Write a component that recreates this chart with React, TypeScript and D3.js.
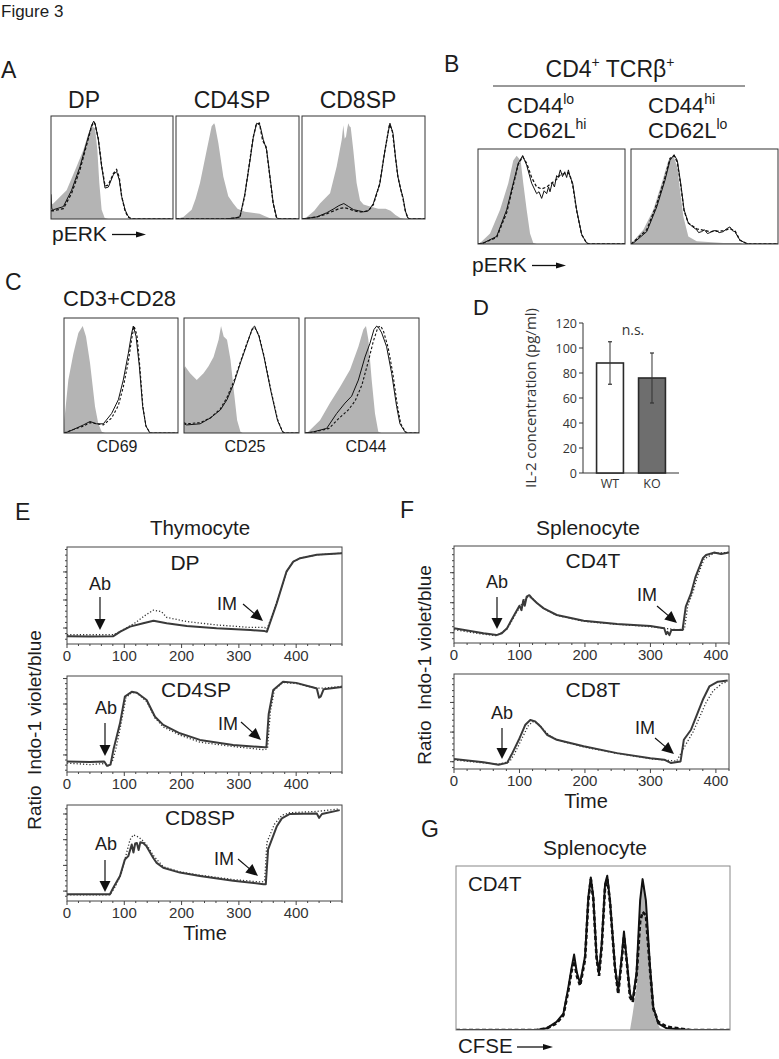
import React from 'react';
import * as d3 from 'd3';

type Pt = [number, number];

// ---------------- Panel A : pERK histograms (channel 0-1000, % of max) ----------------
const A_TITLES = ['DP', 'CD4SP', 'CD8SP'];
const A_DP_FILL: Pt[] = [[0,0],[0,14],[19,15],[128,28],[210,51],[265,67],[306,83],[333,90],[361,88],[380,67],[396,35],[415,9],[440,1],[470,0]];
const A_DP_SOLID: Pt[] = [[0,24],[6,10],[19,9],[101,12],[169,28],[238,51],[292,74],[333,91],[350,95],[361,93],[388,77],[415,51],[443,30],[470,31],[511,43],[538,46],[560,38],[579,22],[607,9],[630,3],[660,0],[1000,0]];
const A_DP_DASH: Pt[] = [[0,8],[19,8],[101,10],[169,25],[238,48],[292,72],[333,90],[350,94],[361,92],[388,78],[415,52],[443,32],[470,33],[511,44],[538,48],[560,40],[579,22],[607,8],[630,2],[660,0],[1000,0]];
const A_CD4_FILL: Pt[] = [[0,0],[60,2],[127,9],[160,20],[195,35],[250,67],[290,90],[310,93],[317,91],[344,74],[385,41],[425,22],[466,15],[500,10],[560,7],[620,6],[680,5],[720,3],[760,1],[800,0]];
const A_CD4_SOLID: Pt[] = [[0,0],[400,0],[480,1],[520,2],[561,25],[602,57],[629,80],[656,93],[683,91],[710,77],[737,67],[764,41],[791,15],[819,1],[840,0],[1000,0]];
const A_CD4_DASH: Pt[] = [[0,0],[400,0],[480,1],[520,2],[558,22],[598,55],[626,78],[652,92],[678,93],[705,76],[733,70],[760,44],[789,16],[815,2],[840,0],[1000,0]];
const A_CD8_FILL: Pt[] = [[0,0],[40,2],[100,8],[146,15],[228,25],[282,51],[323,77],[336,91],[347,78],[358,80],[368,88],[377,93],[386,90],[396,89],[417,67],[444,35],[472,18],[500,14],[560,12],[620,10],[680,10],[720,8],[760,4],[800,1],[840,0]];
const A_CD8_SOLID: Pt[] = [[0,0],[120,2],[200,6],[260,10],[300,13],[340,15],[380,12],[420,9],[460,8],[500,7],[540,8],[580,15],[634,35],[675,67],[702,85],[715,93],[740,83],[760,60],[780,41],[800,30],[821,21],[840,8],[860,1],[880,0],[1000,0]];
const A_CD8_DASH: Pt[] = [[0,0],[120,2],[200,5],[260,8],[300,10],[340,11],[380,10],[420,8],[460,7],[500,7],[540,8],[580,14],[630,33],[672,65],[700,84],[712,92],[735,85],[758,62],[778,42],[800,30],[821,20],[840,8],[860,1],[880,0],[1000,0]];

// ---------------- Panel B ----------------
const B_B1_FILL: Pt[] = [[0,0],[14,1],[82,11],[150,36],[206,64],[240,88],[263,93],[290,88],[308,64],[331,36],[354,11],[376,1],[400,0]];
const B_B1_SOLID: Pt[] = [[0,0],[36,1],[127,8],[195,36],[240,64],[274,85],[304,93],[331,83],[365,64],[399,53],[415,55],[433,48],[450,56],[467,53],[480,60],[490,55],[505,65],[520,60],[535,72],[546,70],[560,78],[575,71],[590,76],[603,70],[615,78],[626,71],[644,64],[671,36],[705,10],[739,1],[760,0],[1000,0]];
const B_B1_DASH: Pt[] = [[0,0],[36,1],[127,7],[195,33],[240,62],[274,84],[304,92],[331,85],[365,70],[399,60],[433,58],[467,60],[500,64],[535,68],[560,73],[590,74],[615,75],[630,70],[644,62],[671,35],[705,10],[739,1],[760,0],[1000,0]];
const B_B2_FILL: Pt[] = [[0,0],[4,1],[84,15],[152,36],[209,64],[254,88],[288,93],[315,81],[333,57],[356,29],[390,8],[447,3],[628,1],[741,1],[760,0]];
const B_B2_SOLID: Pt[] = [[0,0],[16,1],[107,13],[175,39],[231,67],[265,88],[293,94],[315,88],[338,64],[361,36],[390,22],[420,18],[447,15],[460,12],[480,13],[500,15],[520,11],[537,12],[560,14],[580,14],[600,12],[628,13],[650,16],[673,18],[690,14],[707,13],[741,4],[780,1],[800,0],[1000,0]];
const B_B2_DASH: Pt[] = [[0,0],[16,2],[107,15],[175,42],[231,70],[265,90],[293,93],[315,86],[338,62],[361,35],[390,22],[447,16],[537,13],[628,14],[673,16],[707,14],[741,4],[780,1],[800,0],[1000,0]];

// ---------------- Panel C ----------------
const C_LABELS = ['CD69', 'CD25', 'CD44'];
const C_1_FILL: Pt[] = [[0,0],[3,11],[38,46],[82,69],[126,87],[164,93],[193,84],[228,61],[272,23],[301,8],[331,1],[360,0]];
const C_1_SOLID: Pt[] = [[0,0],[9,0],[82,3],[170,7],[228,10],[287,8],[345,8],[418,17],[477,29],[520,46],[564,69],[594,87],[608,93],[632,84],[661,58],[690,23],[719,6],[754,0],[1000,0]];
const C_1_DASH: Pt[] = [[0,0],[82,3],[170,6],[228,9],[287,8],[345,7],[418,13],[477,24],[520,40],[564,62],[594,82],[615,93],[640,85],[665,58],[692,23],[719,6],[754,0],[1000,0]];
const C_2_FILL: Pt[] = [[0,0],[0,55],[9,58],[53,52],[111,46],[170,52],[213,58],[257,66],[301,81],[322,93],[345,84],[374,81],[404,64],[433,37],[462,11],[491,1],[510,0]];
const C_2_SOLID: Pt[] = [[0,8],[23,7],[140,8],[228,13],[316,20],[374,29],[433,43],[491,61],[550,78],[594,91],[614,93],[652,84],[696,66],[754,37],[813,11],[857,1],[880,0],[1000,0]];
const C_2_DASH: Pt[] = [[0,9],[23,8],[140,9],[228,13],[316,21],[374,31],[433,45],[491,62],[550,79],[594,90],[614,92],[652,85],[696,67],[754,38],[813,12],[857,1],[880,0],[1000,0]];
const C_3_FILL: Pt[] = [[0,0],[29,1],[132,11],[219,26],[307,40],[395,55],[468,75],[512,90],[535,93],[556,81],[585,46],[614,17],[643,1],[670,0]];
const C_3_SOLID: Pt[] = [[0,0],[73,1],[190,4],[278,17],[351,26],[409,32],[468,46],[526,66],[570,78],[605,90],[629,93],[650,91],[673,87],[716,75],[760,52],[804,23],[833,8],[877,1],[900,0],[1000,0]];
const C_3_DASH: Pt[] = [[0,0],[90,1],[210,4],[300,13],[380,20],[440,28],[500,42],[560,64],[600,80],[640,92],[665,93],[690,88],[730,74],[770,52],[810,24],[840,8],[880,1],[900,0],[1000,0]];

// ---------------- Panel D ----------------
const D_GROUPS = ['WT', 'KO'];
const D_MEANS = [88, 76];
const D_ERRS = [17, 20];
const D_TICKS = [0, 20, 40, 60, 80, 100, 120];

// ---------------- Panel E / F : calcium flux (time s, ratio) ----------------
const E_NAMES = ['DP', 'CD4SP', 'CD8SP'];
const E_DP_SOLID: Pt[] = [[0,0.71],[40,0.70],[81,0.71],[93,0.87],[110,1.05],[133,1.17],[151,1.26],[174,1.17],[209,1.07],[261,0.99],[320,0.93],[345,0.89],[349,0.87],[366,1.88],[383,3.01],[395,3.37],[407,3.49],[436,3.61],[480,3.67]];
const E_DP_DOT: Pt[] = [[0,0.76],[81,0.76],[95,0.9],[120,1.2],[137,1.46],[151,1.64],[165,1.58],[174,1.38],[209,1.23],[261,1.11],[320,1.02],[345,1.02],[349,0.95],[366,1.9],[383,3.0],[395,3.37],[407,3.49],[436,3.61],[480,3.67]];
const E_CD4_SOLID: Pt[] = [[0,0.74],[40,0.72],[65,0.74],[70,0.57],[76,0.62],[81,1.2],[92.5,2.24],[101,3.29],[113,3.48],[122,3.44],[139,3.16],[153.6,2.5],[168,2.18],[197,1.85],[232,1.59],[290,1.39],[345,1.3],[348,1.3],[352,2.6],[360,3.55],[377,3.87],[400,3.83],[430,3.65],[436,3.61],[440,3.25],[443,3.3],[448,3.58],[480,3.67]];
const E_CD4_DOT: Pt[] = [[0,0.68],[40,0.62],[65,0.66],[72,0.58],[80,0.8],[86,1.3],[95,2.3],[103,3.25],[113,3.45],[122,3.44],[139,3.1],[153.6,2.45],[168,2.1],[197,1.78],[232,1.5],[290,1.33],[345,1.2],[350,1.25],[355,2.7],[362,3.55],[377,3.85],[400,3.8],[436,3.62],[448,3.62],[480,3.7]];
const E_CD8_SOLID: Pt[] = [[0,0.88],[75,0.88],[81,1.14],[92.5,1.59],[101,2.23],[107,2.36],[113,2.81],[116,2.5],[119,2.85],[122,2.87],[125,2.6],[128,2.9],[133,2.87],[139,2.74],[150.6,2.29],[156.5,2.1],[168,1.91],[197,1.72],[232,1.59],[290,1.40],[343,1.27],[347,1.27],[351,2.62],[366,3.51],[375,3.83],[389,4.0],[436,4.02],[440,3.85],[445,4.0],[476,4.15]];
const E_CD8_DOT: Pt[] = [[0,0.85],[75,0.85],[85,1.2],[95,1.7],[103,2.4],[110,3.0],[116,3.19],[125,3.1],[133,2.95],[139,2.8],[152,2.35],[168,1.95],[197,1.75],[232,1.62],[290,1.45],[340,1.35],[345,1.4],[349,2.9],[362,3.6],[375,3.95],[389,4.05],[436,4.1],[476,4.2]];
const E_YDOMAINS: Pt[] = [[0.43, 3.89], [0.33, 4.1], [0.615, 4.35]];

const F_NAMES = ['CD4T', 'CD8T'];
const F_CD4_SOLID: Pt[] = [[0,1.15],[45,0.98],[65,0.92],[73,0.98],[81,1.15],[93.5,1.65],[100,1.9],[103,1.75],[106,2.09],[108,1.9],[111,2.2],[115,2.25],[119,2.15],[127,1.98],[137,1.81],[157,1.59],[198,1.4],[249,1.29],[300,1.22],[321,1.15],[324,0.95],[326,1.03],[329,0.92],[332,1.09],[341,1.09],[349,1.09],[354,1.87],[362,2.31],[369,2.87],[380,3.48],[385,3.59],[397,3.67],[408,3.62],[420,3.67]];
const F_CD4_DOT: Pt[] = [[0,1.1],[45,0.95],[65,0.9],[81,1.12],[93.5,1.6],[106,2.05],[113,2.2],[119,2.15],[137,1.8],[157,1.58],[198,1.38],[249,1.28],[300,1.2],[340,1.1],[352,1.12],[357,1.9],[365,2.35],[372,2.9],[382,3.45],[397,3.65],[420,3.68]];
const F_CD8_SOLID: Pt[] = [[0,1.09],[45,0.98],[68,0.9],[81,0.96],[88,1.24],[99,1.74],[109,2.25],[116.5,2.41],[124,2.36],[132,2.19],[142,1.91],[157,1.74],[198,1.52],[249,1.29],[300,1.12],[321,1.07],[331,0.96],[346,1.01],[351,1.74],[362,2.08],[372,2.64],[380,3.09],[390,3.54],[403,3.7],[418,3.74]];
const F_CD8_DOT: Pt[] = [[0,1.06],[45,0.96],[68,0.92],[85,1.0],[92,1.25],[103,1.75],[113,2.2],[120,2.35],[128,2.3],[136,2.1],[146,1.88],[160,1.72],[198,1.5],[249,1.28],[300,1.1],[340,1.02],[352,1.5],[365,2.0],[376,2.55],[385,3.0],[396,3.4],[410,3.65],[418,3.7]];
const F_YDOMAINS: Pt[] = [[0.657, 3.89], [0.754, 3.96]];
const TIME_TICKS = [0, 100, 200, 300, 400];

// ---------------- Panel G : CFSE ----------------
const G_FILL: Pt[] = [[600,0],[635,0],[645,10],[659,26],[669,58],[677,89],[683,91],[689,87],[701,58],[713,26],[725,8],[744,1],[769,0]];
const G_SOLID: Pt[] = [[0,0],[294,0],[331,1],[367,5],[392,10],[410,26],[422,38],[431,46],[441,35],[453,28.5],[471,45],[483,81],[492,93],[501,81],[513,45],[522,35],[532,53],[544,89],[552,94],[562,79],[580,39],[592,24],[605,45],[613,60],[623,43],[635,22],[645,18],[659,35],[672,79],[681,92],[693,79],[708,39],[720,14],[738,4],[769,1],[854,0],[1000,0]];
const G_DASH: Pt[] = [[0,0],[294,0],[331,1],[367,4],[392,9],[410,24],[422,36],[431,42],[441,33],[453,27],[471,43],[483,79],[492,92],[501,80],[513,44],[522,33],[532,51],[544,87],[552,92],[562,78],[580,38],[592,22],[605,43],[613,57],[623,42],[635,20],[645,17],[659,33],[672,66],[681,72],[693,70],[708,37],[720,13],[738,5],[769,2],[854,0],[1000,0]];

// ---------------- drawing helpers ----------------
const FONT = '"Liberation Sans", Arial, Helvetica, sans-serif';
const INK = '#1c1c1c';

type HistProps = { id: string; x: number; y: number; w: number; h: number; fill: Pt[]; solid: Pt[]; dashed: Pt[];
  sw?: number; dw?: number; dash?: string; box?: string };

function Hist({ id, x, y, w, h, fill, solid, dashed, sw = 1, dw = 1.3, dash = '3,2', box = '#333' }: HistProps) {
  const xs = d3.scaleLinear().domain([0, 1000]).range([x, x + w]);
  const ys = d3.scaleLinear().domain([0, 100]).range([y + h, y]);
  const area = d3.area<Pt>().x(d => xs(d[0])).y0(ys(0)).y1(d => ys(d[1]));
  const line = d3.line<Pt>().x(d => xs(d[0])).y(d => ys(d[1]));
  return (
    <g>
      <defs><clipPath id={id}><rect x={x} y={y} width={w} height={h} /></clipPath></defs>
      <g clipPath={`url(#${id})`}>
        <path d={area(fill) || ''} fill="#b4b4b4" />
        <path d={line(solid) || ''} fill="none" stroke="#111" strokeWidth={sw} strokeLinejoin="round" />
        <path d={line(dashed) || ''} fill="none" stroke="#111" strokeWidth={dw} strokeDasharray={dash} />
      </g>
      <rect x={x} y={y} width={w} height={h} fill="none" stroke={box} strokeWidth={1} />
    </g>
  );
}

function Arrow({ x1, y1, x2, y2, head = 10, width = 9, sw = 1.2 }: any) {
  const dx = x2 - x1, dy = y2 - y1, L = Math.hypot(dx, dy);
  const ux = dx / L, uy = dy / L;
  const bx = x2 - ux * head, by = y2 - uy * head;
  const px = -uy * width / 2, py = ux * width / 2;
  return (
    <g>
      <line x1={x1} y1={y1} x2={bx + ux} y2={by + uy} stroke="#111" strokeWidth={sw} />
      <polygon points={`${x2},${y2} ${bx + px},${by + py} ${bx - px},${by - py}`} fill="#111" />
    </g>
  );
}

type TraceProps = { id: string; x: number; y: number; w: number; h: number; xMax: number; yDom: Pt;
  solid: Pt[]; dotted: Pt[]; label: string; labelX: number; labelY: number;
  ab: { tx: number; ty: number; ax: number; a1: number; a2: number };
  im: { tx: number; ty: number; x1: number; y1: number; x2: number; y2: number } };

function Trace({ id, x, y, w, h, xMax, yDom, solid, dotted, label, labelX, labelY, ab, im }: TraceProps) {
  const xs = d3.scaleLinear().domain([0, xMax]).range([x, x + w]);
  const ys = d3.scaleLinear().domain(yDom).range([y + h, y]);
  const line = d3.line<Pt>().x(d => xs(d[0])).y(d => ys(d[1]));
  const minorX = d3.range(0, xMax + 0.1, 20);
  const yMaj = d3.range(Math.ceil(yDom[0]), yDom[1] + 1e-9, 1);
  const yMin = d3.range(Math.ceil(yDom[0] * 5) / 5, yDom[1], 0.2);
  const ax = '#444';
  return (
    <g>
      <defs><clipPath id={id}><rect x={x} y={y} width={w} height={h} /></clipPath></defs>
      <g clipPath={`url(#${id})`}>
        <path d={line(dotted) || ''} fill="none" stroke="#333" strokeWidth={1.3} strokeDasharray="1.2,2" />
        <path d={line(solid) || ''} fill="none" stroke="#3a3a3a" strokeWidth={2} strokeLinejoin="round" />
      </g>
      <rect x={x} y={y} width={w} height={h} fill="none" stroke={ax} strokeWidth={1} />
      {minorX.map(t => (
        <line key={'mx' + t} x1={xs(t)} x2={xs(t)} y1={y + h} y2={y + h + (t % 100 === 0 ? 4 : 2)} stroke={ax} />
      ))}
      {yMin.map(v => (
        <line key={'my' + v} x1={x} x2={x - 2} y1={ys(v)} y2={ys(v)} stroke={ax} />
      ))}
      {yMaj.map(v => (
        <line key={'Y' + v} x1={x} x2={x - 4} y1={ys(v)} y2={ys(v)} stroke={ax} />
      ))}
      {TIME_TICKS.map(t => (
        <text key={'tl' + t} x={xs(t)} y={y + h + 16.5} fontSize={15} textAnchor="middle" fill="#333">{t}</text>
      ))}
      <text x={labelX} y={labelY} fontSize={21} textAnchor="middle" fill={INK}>{label}</text>
      <text x={ab.tx} y={ab.ty} fontSize={18} textAnchor="middle" fill={INK}>Ab</text>
      <Arrow x1={ab.ax} y1={ab.a1} x2={ab.ax} y2={ab.a2} head={11} width={11} />
      <text x={im.tx} y={im.ty} fontSize={18} textAnchor="middle" fill={INK}>IM</text>
      <Arrow x1={im.x1} y1={im.y1} x2={im.x2} y2={im.y2} head={12} width={11} />
    </g>
  );
}

function BarD() {
  const x0 = 583, x1 = 679, yb = 473, yt = 323;
  const xs = d3.scaleBand<string>().domain(D_GROUPS).range([x0, x1]).paddingInner(0.36).paddingOuter(0.323);
  const ys = d3.scaleLinear().domain([0, 120]).range([yb, yt]);
  const DF = '"Open Sans", "DejaVu Sans", sans-serif';
  const fills = ['#ffffff', '#6e6e6e'];
  return (
    <g fontFamily={DF} fill="#333">
      <line x1={x0} x2={x0} y1={yt} y2={yb} stroke="#333" strokeWidth={1} />
      <line x1={x0} x2={x1} y1={yb} y2={yb} stroke="#333" strokeWidth={1} />
      {D_TICKS.map(t => (
        <g key={t}>
          <line x1={x0 - 4} x2={x0} y1={ys(t)} y2={ys(t)} stroke="#333" />
          <text x={x0 - 6} y={ys(t) + 4.5} fontSize={12.5} textAnchor="end">{t}</text>
        </g>
      ))}
      {D_GROUPS.map((g, i) => {
        const bx = xs(g)!, bw = xs.bandwidth(), cx = bx + bw / 2;
        return (
          <g key={g}>
            <rect x={bx} y={ys(D_MEANS[i])} width={bw} height={yb - ys(D_MEANS[i])} fill={fills[i]} stroke="#2a2a2a" strokeWidth={1.6} />
            <line x1={cx} x2={cx} y1={ys(D_MEANS[i] - D_ERRS[i])} y2={ys(D_MEANS[i] + D_ERRS[i])} stroke="#333" strokeWidth={1} />
            <line x1={cx - 2} x2={cx + 2} y1={ys(D_MEANS[i] + D_ERRS[i])} y2={ys(D_MEANS[i] + D_ERRS[i])} stroke="#333" strokeWidth={1.2} />
            <line x1={cx - 2} x2={cx + 2} y1={ys(D_MEANS[i] - D_ERRS[i])} y2={ys(D_MEANS[i] - D_ERRS[i])} stroke="#333" strokeWidth={1.2} />
            <text x={cx} y={yb + 15} fontSize={12.5} textAnchor="middle">{g}</text>
          </g>
        );
      })}
      <text x={633} y={335} fontSize={14} textAnchor="middle">n.s.</text>
      <text transform="translate(536,398) rotate(-90)" fontSize={15} textAnchor="middle">IL-2 concentration (pg/ml)</text>
    </g>
  );
}

export default function App() {
  const aBoxes = [[51, 116, 122, 103], [176, 116, 123, 103], [302, 116, 123, 103]];
  const aData = [[A_DP_FILL, A_DP_SOLID, A_DP_DASH], [A_CD4_FILL, A_CD4_SOLID, A_CD4_DASH], [A_CD8_FILL, A_CD8_SOLID, A_CD8_DASH]];
  const aTitleX = [84, 232, 358];
  const cBoxes = [[64, 318, 114, 115], [184, 318, 115, 115], [305, 318, 114, 115]];
  const cData = [[C_1_FILL, C_1_SOLID, C_1_DASH], [C_2_FILL, C_2_SOLID, C_2_DASH], [C_3_FILL, C_3_SOLID, C_3_DASH]];
  const cLabelX = [117, 245, 366];

  const eRows = [
    { y: 547, h: 97, solid: E_DP_SOLID, dotted: E_DP_DOT, lx: 185, ly: 570, ab: { tx: 100, ty: 590, ax: 100, a1: 597, a2: 630 }, im: { tx: 227, ty: 610, x1: 243, y1: 604, x2: 263, y2: 621 } },
    { y: 676, h: 96, solid: E_CD4_SOLID, dotted: E_CD4_DOT, lx: 196, ly: 697, ab: { tx: 106, ty: 714, ax: 105, a1: 723, a2: 756 }, im: { tx: 228, ty: 730, x1: 241, y1: 722, x2: 261, y2: 740 } },
    { y: 805, h: 96, solid: E_CD8_SOLID, dotted: E_CD8_DOT, lx: 200, ly: 825, ab: { tx: 106, ty: 850, ax: 105, a1: 860, a2: 892 }, im: { tx: 224, ty: 865, x1: 238, y1: 859, x2: 258, y2: 876 } },
  ];
  const fRows = [
    { y: 546, h: 97, solid: F_CD4_SOLID, dotted: F_CD4_DOT, lx: 593, ly: 568, ab: { tx: 497, ty: 588, ax: 497, a1: 597, a2: 629 }, im: { tx: 647, ty: 601, x1: 657, y1: 606, x2: 677, y2: 623 } },
    { y: 674, h: 95, solid: F_CD8_SOLID, dotted: F_CD8_DOT, lx: 593, ly: 697, ab: { tx: 502, ty: 719, ax: 502, a1: 728, a2: 759 }, im: { tx: 645, ty: 734, x1: 655, y1: 738, x2: 674, y2: 754 } },
  ];

  return (
    <div style={{ position: 'absolute', left: 0, top: 0, background: '#fff' }}>
      <svg width={779} height={1059} viewBox="0 0 779 1059" fontFamily={FONT} style={{ display: 'block' }}>
        <rect x={0} y={0} width={779} height={1059} fill="#fff" />
        <text x={1} y={17} fontSize={17} fill={INK}>Figure 3</text>

        {/* Panel A */}
        <text x={1} y={78} fontSize={23} fill={INK}>A</text>
        {A_TITLES.map((t, i) => (
          <text key={t} x={aTitleX[i]} y={108} fontSize={23} textAnchor="middle" fill={INK}>{t}</text>
        ))}
        {aBoxes.map((b, i) => (
          <Hist key={'a' + i} id={'clipA' + i} x={b[0]} y={b[1]} w={b[2]} h={b[3]} fill={aData[i][0]} solid={aData[i][1]} dashed={aData[i][2]} />
        ))}
        <text x={52} y={241} fontSize={21} fill={INK}>pERK</text>
        <Arrow x1={112} y1={234.5} x2={146} y2={234.5} head={10} width={6} sw={1.3} />

        {/* Panel B */}
        <text x={444} y={72} fontSize={23} fill={INK}>B</text>
        <text x={610} y={77} fontSize={23} textAnchor="middle" fill={INK}>CD4<tspan dy={-10} fontSize={14}>+</tspan><tspan dy={10}>{' TCRβ'}</tspan><tspan dy={-10} fontSize={14}>+</tspan></text>
        <line x1={493} x2={745} y1={86} y2={86} stroke="#333" strokeWidth={1} />
        <text x={507} y={113} fontSize={22} fill={INK}>CD44<tspan dy={-9} fontSize={14}>lo</tspan></text>
        <text x={507} y={138} fontSize={22} fill={INK}>CD62L<tspan dy={-9} fontSize={14}>hi</tspan></text>
        <text x={648} y={113} fontSize={22} fill={INK}>CD44<tspan dy={-9} fontSize={14}>hi</tspan></text>
        <text x={648} y={138} fontSize={22} fill={INK}>CD62L<tspan dy={-9} fontSize={14}>lo</tspan></text>
        <Hist id="clipB0" x={478} y={149} w={147} h={95} fill={B_B1_FILL} solid={B_B1_SOLID} dashed={B_B1_DASH} />
        <Hist id="clipB1" x={631} y={149} w={147} h={95} fill={B_B2_FILL} solid={B_B2_SOLID} dashed={B_B2_DASH} />
        <text x={472} y={272} fontSize={21} fill={INK}>pERK</text>
        <Arrow x1={532} y1={265.5} x2={566} y2={265.5} head={10} width={6} sw={1.3} />

        {/* Panel C */}
        <text x={5} y={290} fontSize={23} fill={INK}>C</text>
        <text x={63} y={306} fontSize={22} fill={INK}>CD3+CD28</text>
        {cBoxes.map((b, i) => (
          <Hist key={'c' + i} id={'clipC' + i} x={b[0]} y={b[1]} w={b[2]} h={b[3]} fill={cData[i][0]} solid={cData[i][1]} dashed={cData[i][2]} dash="2.5,2" dw={1.1} />
        ))}
        {C_LABELS.map((t, i) => (
          <text key={t} x={cLabelX[i]} y={452} fontSize={16} textAnchor="middle" fill={INK}>{t}</text>
        ))}

        {/* Panel D */}
        <text x={473} y={315} fontSize={22} fill={INK}>D</text>
        <BarD />

        {/* Panel E */}
        <text x={15} y={520} fontSize={23} fill={INK}>E</text>
        <text x={200} y={535} fontSize={20.5} textAnchor="middle" fill={INK}>Thymocyte</text>
        {eRows.map((r, i) => (
          <Trace key={'e' + i} id={'clipE' + i} x={67} y={r.y} w={275} h={r.h} xMax={480} yDom={E_YDOMAINS[i]} solid={r.solid} dotted={r.dotted}
            label={E_NAMES[i]} labelX={r.lx} labelY={r.ly} ab={r.ab} im={r.im} />
        ))}
        <text transform="translate(41,730) rotate(-90)" fontSize={19} textAnchor="middle" fill={INK} style={{ whiteSpace: 'pre' }}>Ratio  Indo-1 violet/blue</text>
        <text x={205} y={940} fontSize={20} textAnchor="middle" fill={INK}>Time</text>

        {/* Panel F */}
        <text x={400} y={518} fontSize={23} fill={INK}>F</text>
        <text x={588} y={535} fontSize={21} textAnchor="middle" fill={INK}>Splenocyte</text>
        {fRows.map((r, i) => (
          <Trace key={'f' + i} id={'clipF' + i} x={454} y={r.y} w={275} h={r.h} xMax={420} yDom={F_YDOMAINS[i]} solid={r.solid} dotted={r.dotted}
            label={F_NAMES[i]} labelX={r.lx} labelY={r.ly} ab={r.ab} im={r.im} />
        ))}
        <text transform="translate(431,665) rotate(-90)" fontSize={19} textAnchor="middle" fill={INK} style={{ whiteSpace: 'pre' }}>Ratio  Indo-1 violet/blue</text>
        <text x={586} y={808} fontSize={20} textAnchor="middle" fill={INK}>Time</text>

        {/* Panel G */}
        <text x={421} y={837} fontSize={23} fill={INK}>G</text>
        <text x={595} y={855} fontSize={21} textAnchor="middle" fill={INK}>Splenocyte</text>
        <Hist id="clipG" x={456} y={866} w={274} h={164} fill={G_FILL} solid={G_SOLID} dashed={G_DASH} sw={2} dw={2.6} dash="4,2.5" box="#888" />
        <text x={468} y={891} fontSize={20.5} fill={INK}>CD4T</text>
        <text x={458} y={1053} fontSize={20.5} fill={INK}>CFSE</text>
        <Arrow x1={517} y1={1047} x2={553} y2={1047} head={10} width={6} sw={1.3} />
      </svg>
    </div>
  );
}
